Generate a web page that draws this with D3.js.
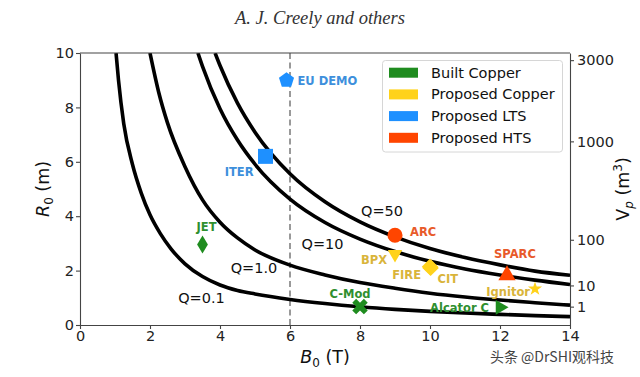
<!DOCTYPE html>
<html><head><meta charset="utf-8">
<script src="https://cdn.jsdelivr.net/npm/d3@7"></script>
<style>body{margin:0;background:#fff}svg{display:block}</style>
</head><body>
<script>
// ---------- data ----------
const titleText = "A. J. Creely and others";
const xTicks = [0, 2, 4, 6, 8, 10, 12, 14];
const yTicks = [0, 2, 4, 6, 8, 10];
const vpTicks = [1, 10, 100, 1000, 3000];
const vpAtR10 = 3250;             // plasma volume (m^3) at R0 = 10 m
const devLine = 6;                // dashed line B0 = 6 T

const qLabels = ["Q=0.1", "Q=1.0", "Q=10", "Q=50"];
const q01B = [1.03,1.1,1.25,1.5,1.75,2,2.3,2.6,3,3.5,4,4.5,5,6,7,8,9,10,11,12,13,14];
const q01R = [10,9.0,7.4,5.9,4.85,4.05,3.35,2.8,2.25,1.78,1.47,1.27,1.14,0.94,0.79,0.67,0.575,0.5,0.44,0.39,0.345,0.308];
const q1B  = [2,2.25,2.5,3,3.5,4,4.5,5,6,7,8,9,10,11,12,13,14];
const q1R  = [10,8.55,7.43,5.82,4.6,3.78,3.2,2.76,2.2,1.84,1.56,1.35,1.17,1.03,0.917,0.82,0.73];
const q10B = [3.37,3.5,4,4.5,5,6,7,8,9,10,11,12,13,14];
const q10R = [10,9.51,7.95,6.80,5.91,4.63,3.77,3.16,2.70,2.34,2.06,1.84,1.65,1.49];
const q50B = [3.86,4,4.5,5,6,7,8,9,10,11,12,13,14];
const q50R = [10,9.54,8.16,7.09,5.56,4.53,3.79,3.24,2.81,2.48,2.21,1.98,1.83];

const groups = ["Built Copper", "Proposed Copper", "Proposed LTS", "Proposed HTS"];
const machines = ["EU DEMO","ITER","JET","C-Mod","Alcator C","ARC","BPX","FIRE","CIT","SPARC","Ignitor"];
const machineB = [5.9, 5.3, 3.5, 8.0, 12.0, 9.0, 9.0, 10.0, 10.0, 12.2, 13.0];
const machineR = [9.0, 6.2, 2.96, 0.68, 0.65, 3.3, 2.6, 2.14, 2.1, 1.83, 1.33];
const machineGroup = [2, 2, 0, 0, 0, 3, 1, 1, 1, 3, 1];
const watermark = "头条 @DrSHI观科技";

// ---------- styles ----------
const groupColor = ["#1f8c1f", "#FFD21A", "#1E90FF", "#FF4500"];
const groupText  = ["#2f8f2f", "#D9B43A", "#3D8FDC", "#E85A2A"];
const W = 640, H = 377;
const M = {l: 80, r: 570, t: 53, b: 325};

const svg = d3.select("body").append("svg").attr("width", W).attr("height", H)
  .style("font-family", "'DejaVu Sans', sans-serif");

const x = d3.scaleLinear().domain([0, 14]).range([M.l, M.r]);
const y = d3.scaleLinear().domain([0, 10]).range([M.b, M.t]);
const yV = d3.scalePow().exponent(1/3).domain([0, vpAtR10]).range([M.b, M.t]);

// title
svg.append("text").attr("x", 320).attr("y", 24).attr("text-anchor", "middle")
  .style("font-family", "'Liberation Serif', serif").style("font-style", "italic")
  .style("font-size", "18.5px").attr("fill", "#333").text(titleText);

// dashed line
svg.append("line").attr("x1", x(devLine)).attr("x2", x(devLine)).attr("y1", M.t).attr("y2", M.b)
  .attr("stroke", "#808080").attr("stroke-width", 1.6).attr("stroke-dasharray", "6,3.5");

// curves
const clip = svg.append("clipPath").attr("id", "c").append("rect")
  .attr("x", M.l).attr("y", M.t).attr("width", M.r - M.l).attr("height", M.b - M.t);
const line = d3.line().x(d => x(d[0])).y(d => y(d[1])).curve(d3.curveMonotoneX);
const curves = [[q01B, q01R], [q1B, q1R], [q10B, q10R], [q50B, q50R]];
curves.forEach(([bs, rs]) => {
  svg.append("path").attr("d", line(bs.map((b, i) => [b, rs[i]])))
    .attr("fill", "none").attr("stroke", "#000").attr("stroke-width", 3.6)
    .attr("clip-path", "url(#c)");
});
// Q labels (positions in data units)
const qLabelPos = [[3.47, 0.81], [4.97, 1.92], [6.93, 2.8], [8.63, 3.99]];
qLabels.forEach((t, i) => {
  svg.append("text").attr("x", x(qLabelPos[i][0])).attr("y", y(qLabelPos[i][1]))
    .attr("text-anchor", "middle").style("font-size", "14.5px").attr("fill", "#111").text(t);
});

// axes
function styleAxis(g) {
  g.selectAll("path.domain").attr("stroke", "#444").attr("stroke-width", 1.1);
  g.selectAll(".tick line").attr("stroke", "#444").attr("stroke-width", 1.1);
  g.selectAll(".tick text").style("font-size", "14.5px").attr("fill", "#222")
    .style("font-family", "'DejaVu Sans', sans-serif");
}
svg.append("g").attr("transform", `translate(0,${M.b})`)
  .call(d3.axisBottom(x).tickValues(xTicks).tickSize(4).tickPadding(2).tickSizeOuter(0)).call(styleAxis);
svg.append("g").attr("transform", `translate(${M.l},0)`)
  .call(d3.axisLeft(y).tickValues(yTicks).tickSize(4).tickPadding(2).tickSizeOuter(0)).call(styleAxis);
svg.append("g").attr("transform", `translate(${M.r},0)`)
  .call(d3.axisRight(yV).tickValues(vpTicks).tickFormat(d3.format("d")).tickSize(4).tickPadding(3).tickSizeOuter(0)).call(styleAxis);
svg.append("line").attr("x1", M.l).attr("x2", M.r).attr("y1", M.t).attr("y2", M.t)
  .attr("stroke", "#444").attr("stroke-width", 1.1);

// axis labels
const xl = svg.append("text").attr("x", (M.l + M.r) / 2).attr("y", 363).attr("text-anchor", "middle")
  .style("font-size", "17.5px").attr("fill", "#111");
xl.append("tspan").style("font-style", "italic").text("B");
xl.append("tspan").attr("dy", 4).style("font-size", "12px").text("0");
xl.append("tspan").attr("dy", -4).text(" (T)");

const ylab = svg.append("text").attr("transform", `translate(49,${(M.t + M.b) / 2}) rotate(-90)`)
  .attr("text-anchor", "middle").style("font-size", "17.5px").attr("fill", "#111");
ylab.append("tspan").style("font-style", "italic").text("R");
ylab.append("tspan").attr("dy", 4).style("font-size", "12px").text("0");
ylab.append("tspan").attr("dy", -4).text(" (m)");

const vlab = svg.append("text").attr("transform", `translate(629,${(M.t + M.b) / 2}) rotate(-90)`)
  .attr("text-anchor", "middle").style("font-size", "17.5px").attr("fill", "#111");
vlab.append("tspan").text("V");
vlab.append("tspan").attr("dy", 4).style("font-size", "12px").style("font-style", "italic").text("p");
vlab.append("tspan").attr("dy", -4).text(" (m");
vlab.append("tspan").attr("dy", -7).style("font-size", "12px").text("3");
vlab.append("tspan").attr("dy", 7).text(")");

// symbols
const pentagon = {draw(ctx, size) {
  const r = Math.sqrt(size / 2.378);
  for (let i = 0; i < 5; i++) {
    const a = -Math.PI / 2 + i * 2 * Math.PI / 5;
    if (i === 0) ctx.moveTo(r * Math.cos(a), r * Math.sin(a)); else ctx.lineTo(r * Math.cos(a), r * Math.sin(a));
  }
  ctx.closePath();
}};
const thinDiamond = {draw(ctx, size) {
  const h = Math.sqrt(size) * 0.9, w = h * 0.6;
  ctx.moveTo(0, -h); ctx.lineTo(w, 0); ctx.lineTo(0, h); ctx.lineTo(-w, 0); ctx.closePath();
}};
const fatDiamond = {draw(ctx, size) {
  const h = Math.sqrt(size) * 0.72;
  ctx.moveTo(0, -h); ctx.lineTo(h, 0); ctx.lineTo(0, h); ctx.lineTo(-h, 0); ctx.closePath();
}};
const markerStyle = {
  "EU DEMO": {type: pentagon, size: 150, rot: 0},
  "ITER": {type: d3.symbolSquare, size: 225, rot: 0},
  "JET": {type: thinDiamond, size: 100, rot: 0},
  "C-Mod": {type: d3.symbolCross, size: 150, rot: 45},
  "Alcator C": {type: d3.symbolTriangle, size: 95, rot: 90},
  "ARC": {type: d3.symbolCircle, size: 180, rot: 0},
  "BPX": {type: d3.symbolTriangle, size: 90, rot: 180},
  "FIRE": {type: fatDiamond, size: 130, rot: 0},
  "CIT": {type: fatDiamond, size: 130, rot: 0},
  "SPARC": {type: d3.symbolTriangle, size: 130, rot: 0},
  "Ignitor": {type: d3.symbolStar, size: 62, rot: 0}
};
// label offsets (px)
const labelStyle = {
  "EU DEMO": [11, 4.5, "start"], "ITER": [-12, 20, "end"], "JET": [4, -13, "middle"],
  "C-Mod": [-10, -9, "middle"], "Alcator C": [-11, 5, "end"], "ARC": [15, 1, "start"],
  "BPX": [-8, 10, "end"], "FIRE": [-9, 12, "end"], "CIT": [7, 15, "start"],
  "SPARC": [8, -17, "middle"], "Ignitor": [-5, 7, "end"]
};
machines.forEach((m, i) => {
  const cx = x(machineB[i]) + (m === "CIT" ? 0.6 : 0), cy = y(machineR[i]);
  const s = markerStyle[m];
  svg.append("path").attr("d", d3.symbol().type(s.type).size(s.size)())
    .attr("transform", `translate(${cx},${cy}) rotate(${s.rot})`)
    .attr("fill", groupColor[machineGroup[i]]);
  const L = labelStyle[m];
  svg.append("text").attr("x", cx + L[0]).attr("y", cy + L[1]).attr("text-anchor", L[2])
    .style("font-size", "11.5px").style("font-weight", "bold")
    .attr("fill", groupText[machineGroup[i]]).text(m);
});

// legend
const lg = svg.append("g");
lg.append("rect").attr("x", 382.5).attr("y", 60.5).attr("width", 180).attr("height", 91.5).attr("rx", 3)
  .attr("fill", "#fff").attr("fill-opacity", 0.85).attr("stroke", "#d6d6d6").attr("stroke-width", 1);
groups.forEach((g, i) => {
  const cy = 72.7 + i * 21.7;
  lg.append("rect").attr("x", 389).attr("y", cy - 5).attr("width", 29).attr("height", 10)
    .attr("fill", groupColor[i]);
  lg.append("text").attr("x", 431).attr("y", cy + 5).style("font-size", "14.5px").attr("fill", "#111").text(g);
});

// watermark
svg.append("text").attr("x", 614).attr("y", 362).attr("text-anchor", "end")
  .style("font-family", "'Noto Sans CJK SC', sans-serif").style("font-size", "14px")
  .attr("fill", "#444").text(watermark);
</script>
</body></html>
